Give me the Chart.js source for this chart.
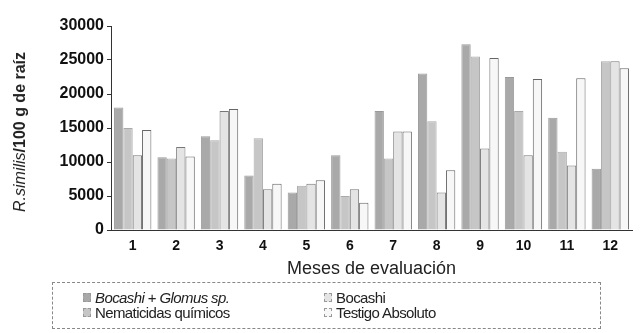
<!DOCTYPE html>
<html>
<head>
<meta charset="utf-8">
<script src="https://cdn.jsdelivr.net/npm/chart.js@4"></script>
<style>
  body { margin:0; background:#fff; font-family:"Liberation Sans", Arial, sans-serif; }
  #wrap { position:relative; width:644px; height:333px; }
  #grafica { position:absolute; left:0; top:0; }
  #ytitulo {
    position:absolute; left:20px; top:132px; white-space:nowrap;
    transform:translate(-50%,-50%) rotate(-90deg);
    font-size:16px; font-weight:bold; color:#222;
  }
  #ytitulo i { font-weight:normal; }
  #leyenda {
    position:absolute; left:52px; top:282px; width:549px; height:47px;
    border:1px dashed #888; box-sizing:border-box; font-size:15px; color:#222;
  }
  .item { position:absolute; display:flex; align-items:center; letter-spacing:-0.6px; }
  .cuadro { width:8px; height:9px; margin-right:4px; border:1px dashed #999; box-sizing:border-box; }
</style>
</head>
<body>
<div id="wrap">
  <canvas id="grafica" width="644" height="290"></canvas>
  <div id="ytitulo"><i>R.similis</i>/100 g de raíz</div>
  <div id="leyenda"></div>
</div>
<script>
const meses = ["1","2","3","4","5","6","7","8","9","10","11","12"];

const bocashiGlomus = [18000, 10700, 13800, 8000, 5500, 11000, 17500, 23000, 27300, 22500, 16500, 9000];
const nematicidas   = [15000, 10500, 13200, 13500, 6500, 5000, 10500, 16000, 25500, 17500, 11500, 24800];
const bocashi       = [11000, 12200, 17500, 6000, 6800, 6000, 14500, 5500, 12000, 11000, 9500, 24800];
const testigo       = [14700, 10800, 17800, 6800, 7300, 4000, 14500, 8800, 25300, 22200, 22300, 23800];

const series = [
  { nombre:"Bocashi + Glomus sp.", datos:bocashiGlomus, color:"#a9a9a9", borde:"#9a9a9a" },
  { nombre:"Nematicidas químicos", datos:nematicidas, color:"#c6c6c6", borde:"#aaaaaa" },
  { nombre:"Bocashi", datos:bocashi, color:"#e4e4e4", borde:"#777777" },
  { nombre:"Testigo Absoluto", datos:testigo, color:"#f7f7f7", borde:"#666666" }
];

new Chart(document.getElementById("grafica"), {
  type:"bar",
  data:{
    labels:meses,
    datasets:series.map(s => ({
      label:s.nombre,
      data:s.datos,
      backgroundColor:s.color,
      borderColor:s.borde,
      borderWidth:1,
      categoryPercentage:0.86,
      barPercentage:1.0
    }))
  },
  options:{
    responsive:false,
    animation:false,
    layout:{ padding:{ top:26, right:12, bottom:0, left:0 } },
    plugins:{ legend:{ display:false }, tooltip:{ enabled:false } },
    scales:{
      x:{
        grid:{ display:false, drawTicks:false },
        border:{ display:true, color:"#333", dash:[3,2] },
        ticks:{ color:"#111", font:{ family:"Liberation Sans", size:14, weight:"bold" }, padding:8 },
        title:{ display:true, text:"Meses de evaluación", color:"#222",
                font:{ family:"Liberation Sans", size:18 }, padding:{ top:0, bottom:10 } },
        afterFit(scale){ scale.height = 60; }
      },
      y:{
        min:0, max:30000,
        grid:{ drawOnChartArea:false, tickLength:4, color:"#333" },
        border:{ display:true, color:"#333", dash:[3,2] },
        ticks:{ stepSize:5000, color:"#111", font:{ family:"Liberation Sans", size:16, weight:"bold" }, padding:3,
                callback:v => String(v) },
        afterFit(scale){ scale.width = 111; }
      }
    }
  }
});

const leyenda = document.getElementById("leyenda");
const posiciones = [[30,6],[30,21],[271,6],[271,21]];
[0,1,2,3].forEach((i,k) => {
  const s = series[i];
  const el = document.createElement("div");
  el.className = "item";
  el.style.left = posiciones[k][0] + "px";
  el.style.top = posiciones[k][1] + "px";
  let texto = s.nombre;
  if(i === 0) texto = "<i>Bocashi</i> + <i>Glomus sp.</i>";
  el.innerHTML = `<span class="cuadro" style="background:${s.color}"></span><span>${texto}</span>`;
  leyenda.appendChild(el);
});
</script>
</body>
</html>
